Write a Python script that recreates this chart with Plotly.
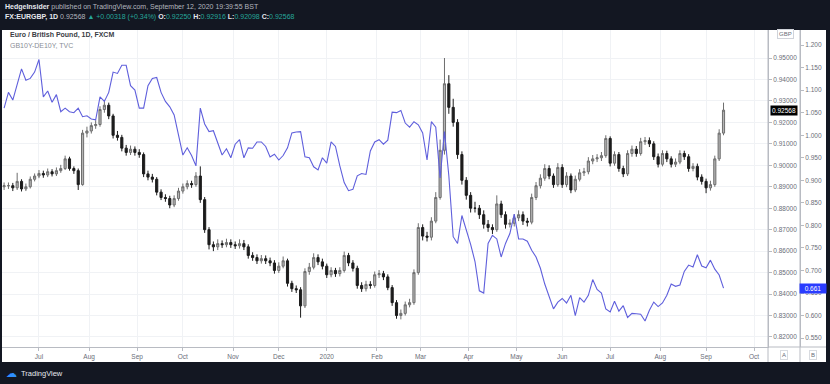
import numpy as np
import pandas as pd
import plotly.graph_objects as go

# ---------------- data ----------------
START, END, AXIS_END = "2019-06-07", "2020-09-11", "2020-10-30"

opens = [0.8900,0.8905,0.8905,0.8895,0.8925,0.8890,0.8900,0.8935,0.8950,0.8962,
0.8955,0.8970,0.8960,0.8975,0.8985,0.9030,0.8985,0.8975,0.8910,0.9150,
0.9160,0.9185,0.9190,0.9260,0.9280,0.9230,0.9140,0.9130,0.9080,0.9060,
0.9075,0.9060,0.9050,0.8960,0.8945,0.8935,0.8875,0.8850,0.8845,0.8815,
0.8845,0.8880,0.8900,0.8915,0.8910,0.8950,0.8840,0.8700,0.8630,0.8620,
0.8635,0.8630,0.8640,0.8630,0.8625,0.8635,0.8620,0.8580,0.8570,0.8555,
0.8565,0.8555,0.8545,0.8510,0.8530,0.8555,0.8450,0.8425,0.8420,0.8345,
0.8505,0.8525,0.8570,0.8550,0.8530,0.8490,0.8510,0.8495,0.8510,0.8580,
0.8545,0.8520,0.8440,0.8425,0.8445,0.8440,0.8490,0.8495,0.8480,0.8430,
0.8360,0.8300,0.8310,0.8350,0.8360,0.8500,0.8710,0.8670,0.8665,0.8740,
0.8850,0.9070,0.9380,0.9270,0.9200,0.9050,0.8930,0.8860,0.8800,0.8800,
0.8770,0.8725,0.8710,0.8700,0.8820,0.8770,0.8725,0.8730,0.8755,0.8770,
0.8740,0.8735,0.8850,0.8905,0.8940,0.8985,0.8950,0.8910,0.8990,0.8910,
0.8950,0.8885,0.8935,0.8965,0.8970,0.9020,0.9030,0.9035,0.9045,0.9125,
0.9010,0.9050,0.8985,0.8960,0.9055,0.9075,0.9055,0.9110,0.9115,0.9100,
0.9040,0.9005,0.9055,0.9030,0.9005,0.9015,0.9055,0.9040,0.8985,0.8995,
0.8945,0.8925,0.8895,0.8910,0.9030,0.9150]

highs = [0.8920,0.8920,0.8918,0.8965,0.8935,0.8915,0.8948,0.8962,0.8978,0.8975,
0.8985,0.8982,0.8990,0.9002,0.9045,0.9040,0.8995,0.8985,0.9165,0.9180,
0.9200,0.9210,0.9275,0.9305,0.9292,0.9240,0.9160,0.9142,0.9095,0.9092,
0.9088,0.9075,0.9060,0.8975,0.8960,0.8945,0.8888,0.8865,0.8858,0.8860,
0.8895,0.8915,0.8930,0.8928,0.8968,0.8995,0.8852,0.8712,0.8645,0.8655,
0.8650,0.8658,0.8655,0.8645,0.8655,0.8652,0.8632,0.8595,0.8585,0.8582,
0.8580,0.8570,0.8558,0.8548,0.8575,0.8565,0.8462,0.8440,0.8432,0.8520,
0.8545,0.8590,0.8585,0.8565,0.8542,0.8525,0.8522,0.8525,0.8598,0.8592,
0.8558,0.8532,0.8455,0.8462,0.8460,0.8505,0.8512,0.8508,0.8492,0.8442,
0.8372,0.8328,0.8365,0.8378,0.8515,0.8730,0.8725,0.8690,0.8758,0.8875,
0.9120,0.9500,0.9420,0.9310,0.9215,0.9065,0.8945,0.8875,0.8830,0.8815,
0.8790,0.8745,0.8725,0.8860,0.8835,0.8785,0.8748,0.8772,0.8790,0.8785,
0.8755,0.8868,0.8922,0.8958,0.9005,0.9000,0.8962,0.9010,0.9005,0.8968,
0.8962,0.8952,0.8982,0.8988,0.9038,0.9048,0.9052,0.9062,0.9140,0.9135,
0.9065,0.9062,0.8998,0.9070,0.9092,0.9090,0.9128,0.9132,0.9130,0.9112,
0.9055,0.9070,0.9068,0.9042,0.9032,0.9070,0.9068,0.9052,0.9010,0.9008,
0.8958,0.8938,0.8928,0.9045,0.9168,0.9292]

lows = [0.8885,0.8890,0.8880,0.8885,0.8878,0.8880,0.8892,0.8925,0.8940,0.8942,
0.8945,0.8948,0.8950,0.8965,0.8978,0.8975,0.8960,0.8885,0.8905,0.9130,
0.9148,0.9170,0.9180,0.9245,0.9215,0.9125,0.9115,0.9065,0.9045,0.9048,
0.9045,0.9035,0.8945,0.8930,0.8920,0.8860,0.8838,0.8830,0.8800,0.8805,
0.8835,0.8868,0.8888,0.8895,0.8900,0.8825,0.8685,0.8608,0.8600,0.8605,
0.8615,0.8618,0.8615,0.8610,0.8612,0.8605,0.8565,0.8555,0.8540,0.8542,
0.8540,0.8530,0.8495,0.8498,0.8520,0.8435,0.8410,0.8405,0.8290,0.8335,
0.8490,0.8515,0.8535,0.8515,0.8475,0.8478,0.8480,0.8482,0.8500,0.8530,
0.8505,0.8425,0.8410,0.8412,0.8425,0.8430,0.8475,0.8465,0.8418,0.8345,
0.8285,0.8282,0.8300,0.8338,0.8350,0.8490,0.8650,0.8645,0.8650,0.8730,
0.8840,0.9050,0.9240,0.9180,0.9030,0.8910,0.8840,0.8780,0.8780,0.8750,
0.8705,0.8690,0.8680,0.8690,0.8755,0.8705,0.8710,0.8715,0.8740,0.8722,
0.8715,0.8725,0.8838,0.8892,0.8928,0.8935,0.8895,0.8900,0.8895,0.8898,
0.8870,0.8875,0.8925,0.8950,0.8958,0.9005,0.9015,0.9020,0.9035,0.8995,
0.8998,0.8970,0.8945,0.8950,0.9040,0.9040,0.9045,0.9095,0.9085,0.9025,
0.8990,0.8995,0.9015,0.8990,0.8992,0.9005,0.9025,0.8970,0.8972,0.8930,
0.8910,0.8870,0.8882,0.8900,0.9020,0.9140]

closes = [0.8905,0.8905,0.8895,0.8925,0.8890,0.8900,0.8935,0.8950,0.8962,0.8955,
0.8970,0.8960,0.8975,0.8985,0.9030,0.8985,0.8975,0.8910,0.9150,0.9160,
0.9185,0.9190,0.9260,0.9280,0.9230,0.9140,0.9130,0.9080,0.9060,0.9075,
0.9060,0.9050,0.8960,0.8945,0.8935,0.8875,0.8850,0.8845,0.8815,0.8845,
0.8880,0.8900,0.8915,0.8910,0.8950,0.8840,0.8700,0.8630,0.8620,0.8635,
0.8630,0.8640,0.8630,0.8625,0.8635,0.8620,0.8580,0.8570,0.8555,0.8565,
0.8555,0.8545,0.8510,0.8530,0.8555,0.8450,0.8425,0.8420,0.8345,0.8505,
0.8525,0.8570,0.8550,0.8530,0.8490,0.8510,0.8495,0.8510,0.8580,0.8545,
0.8520,0.8440,0.8425,0.8445,0.8440,0.8490,0.8495,0.8480,0.8430,0.8360,
0.8300,0.8310,0.8350,0.8360,0.8500,0.8710,0.8670,0.8665,0.8740,0.8850,
0.9070,0.9380,0.9270,0.9200,0.9050,0.8930,0.8860,0.8800,0.8800,0.8770,
0.8725,0.8710,0.8700,0.8820,0.8770,0.8725,0.8730,0.8755,0.8770,0.8740,
0.8735,0.8850,0.8905,0.8940,0.8985,0.8950,0.8910,0.8990,0.8910,0.8950,
0.8885,0.8935,0.8965,0.8970,0.9020,0.9030,0.9035,0.9045,0.9125,0.9010,
0.9050,0.8985,0.8960,0.9055,0.9075,0.9055,0.9110,0.9115,0.9100,0.9040,
0.9005,0.9055,0.9030,0.9005,0.9015,0.9055,0.9040,0.8985,0.8995,0.8945,
0.8925,0.8895,0.8910,0.9030,0.9150,0.9257]

spread = [1.060,1.095,1.078,1.115,1.147,1.122,1.126,1.140,1.168,1.085,
1.098,1.073,1.090,1.052,1.060,1.052,1.050,1.060,1.041,1.043,
1.036,1.034,1.085,1.075,1.095,1.140,1.137,1.155,1.155,1.110,
1.100,1.060,1.060,1.110,1.126,1.128,1.095,1.075,1.063,1.045,
1.000,0.956,0.972,0.955,0.932,1.060,1.025,1.008,1.010,0.985,
0.956,0.970,0.950,0.980,0.990,0.950,0.972,0.971,0.985,0.985,
0.975,0.952,0.958,0.945,0.955,0.972,1.005,1.007,1.008,0.952,
0.950,0.930,0.923,0.950,0.938,0.985,0.975,0.932,0.895,0.877,
0.880,0.910,0.915,0.913,0.965,0.985,0.990,0.980,0.989,1.051,
1.050,1.055,1.027,1.018,1.030,1.023,1.005,0.945,1.030,1.018,
0.905,1.008,0.910,0.775,0.760,0.822,0.790,0.758,0.720,0.655,
0.650,0.760,0.778,0.770,0.730,0.760,0.782,0.825,0.770,0.770,
0.765,0.745,0.730,0.705,0.670,0.640,0.615,0.630,0.638,0.628,
0.645,0.600,0.640,0.630,0.645,0.680,0.658,0.650,0.615,0.608,
0.632,0.610,0.622,0.596,0.605,0.604,0.603,0.588,0.612,0.630,
0.620,0.628,0.645,0.670,0.665,0.668,0.698,0.712,0.708,0.735,
0.710,0.706,0.723,0.703,0.690,0.661]

month_labels = ["Jul", "Aug", "Sep", "Oct", "Nov", "Dec", "2020", "Feb", "Mar",
                "Apr", "May", "Jun", "Jul", "Aug", "Sep", "Oct"]
price_ticks = [0.82, 0.83, 0.84, 0.85, 0.86, 0.87, 0.88, 0.89, 0.90, 0.91,
               0.92, 0.93, 0.94, 0.95]
spread_ticks = [0.55, 0.60, 0.65, 0.70, 0.75, 0.80, 0.85, 0.90, 0.95, 1.00,
                1.05, 1.10, 1.15, 1.20]
last_price = 0.92568
last_spread = 0.661

# ---------------- positions on a trading-day scale ----------------
bdays = pd.bdate_range(START, AXIS_END)
bar_dates = pd.bdate_range(START, END)[::2]
xpos = bdays.get_indexer(bar_dates)
month_starts = pd.date_range("2019-07-01", "2020-10-01", freq="MS")
tick_pos = bdays.searchsorted(month_starts)

DARK = "#131722"
GRID = "#f0f2f5"
AXC = "#b8bbc2"
TXT = "#6a6d78"
BLUE = "#5f5fdc"
FONT = "Liberation Sans"

fig = go.Figure()
fig.add_trace(go.Candlestick(
    x=xpos, open=opens, high=highs, low=lows, close=closes,
    increasing=dict(line=dict(color="#6e6e6e", width=1), fillcolor="#b4b4b4"),
    decreasing=dict(line=dict(color="#1c1c1c", width=1), fillcolor="#1c1c1c"),
    whiskerwidth=0, showlegend=False, yaxis="y", hoverinfo="skip"))
fig.add_trace(go.Scatter(
    x=xpos, y=spread, mode="lines", line=dict(color=BLUE, width=1.1),
    showlegend=False, yaxis="y2", hoverinfo="skip"))

# plot area: x 2..768 px, y 30..347 px ; paper region x 2..800
XD = 0.9599
fig.update_layout(
    width=830, height=384, autosize=False,
    margin=dict(l=2, r=30, t=30, b=37),
    paper_bgcolor=DARK, plot_bgcolor="white",
    font=dict(family=FONT, size=7, color=TXT),
    xaxis=dict(domain=[0, XD], range=[-0.96, 350.4], rangeslider=dict(visible=False),
               tickvals=list(tick_pos), ticktext=month_labels,
               showgrid=True, gridcolor=GRID, gridwidth=1, zeroline=False,
               ticks="outside", ticklen=3, tickcolor=AXC,
               showline=True, linecolor=AXC, linewidth=1,
               tickfont=dict(size=6.5, color=TXT, family=FONT)),
    yaxis=dict(side="right", anchor="x", range=[0.81533, 0.96305],
               tickvals=price_ticks, tickformat=".5f",
               showgrid=True, gridcolor=GRID, zeroline=False,
               ticks="outside", ticklen=3, tickcolor=AXC,
               showline=True, linecolor=AXC, linewidth=1,
               tickfont=dict(size=6.5, color=TXT, family=FONT)),
    yaxis2=dict(side="right", overlaying="y", anchor="free", position=1.0,
                range=[0.5304, 1.2333], tickvals=spread_ticks, tickformat=".3f",
                showgrid=False, zeroline=False,
                ticks="outside", ticklen=3, tickcolor=AXC,
                showline=True, linecolor=AXC, linewidth=1,
                tickfont=dict(size=6.5, color=TXT, family=FONT)),
)

W_R = (826 - 2) / 798.0
Y_B = (347 - 362) / 317.0

def py(pix):
    return (347 - pix) / 317.0

def px(pix):
    return (pix - 2) / 798.0

shapes = [
    dict(type="rect", xref="paper", yref="paper", x0=0, x1=W_R, y0=Y_B, y1=1,
         fillcolor="white", line=dict(width=0), layer="below"),
    dict(type="line", xref="paper", yref="paper", x0=XD, x1=XD, y0=Y_B, y1=1,
         line=dict(color=AXC, width=1)),
    dict(type="line", xref="paper", yref="paper", x0=1, x1=1, y0=Y_B, y1=1,
         line=dict(color=AXC, width=1)),
    dict(type="line", xref="paper", yref="paper", x0=XD, x1=W_R, y0=0, y1=0,
         line=dict(color=AXC, width=1)),
]
fig.update_layout(shapes=shapes)

ann = []
ann.append(dict(xref="paper", yref="paper", x=px(3), y=py(7), xanchor="left", yanchor="middle",
                showarrow=False, font=dict(size=7, color="#b2b5be", family=FONT),
                text="<b><span style='color:#e6e8ee'>HedgeInsider</span></b> published on TradingView.com, September 12, 2020 19:39:55 BST"))
G = "#26a69a"
ann.append(dict(xref="paper", yref="paper", x=px(3), y=py(17), xanchor="left", yanchor="middle",
                showarrow=False, font=dict(size=7, color="#b2b5be", family=FONT),
                text=("<b><span style='color:#e6e8ee'>FX:EURGBP, 1D</span></b> 0.92568 "
                      f"<span style='color:{G}'>▲ +0.00318 (+0.34%)</span> "
                      f"<b><span style='color:#e6e8ee'>O:</span></b><span style='color:{G}'>0.92250</span> "
                      f"<b><span style='color:#e6e8ee'>H:</span></b><span style='color:{G}'>0.92916</span> "
                      f"<b><span style='color:#e6e8ee'>L:</span></b><span style='color:{G}'>0.92098</span> "
                      f"<b><span style='color:#e6e8ee'>C:</span></b><span style='color:{G}'>0.92568</span>")))
ann.append(dict(xref="paper", yref="paper", x=px(8), y=py(35), xanchor="left", yanchor="middle",
                showarrow=False, font=dict(size=7, color="#3a3d45", family=FONT),
                text="<b>Euro / British Pound, 1D, FXCM</b>"))
ann.append(dict(xref="paper", yref="paper", x=px(8), y=py(45), xanchor="left", yanchor="middle",
                showarrow=False, font=dict(size=7, color="#8a8d96", family=FONT),
                text="GB10Y-DE10Y, TVC"))
ann.append(dict(xref="paper", yref="paper", x=px(785), y=py(34), xanchor="center", yanchor="middle",
                showarrow=False, font=dict(size=6, color=TXT, family=FONT), text="GBP",
                bordercolor="#d0d3da", borderwidth=1, borderpad=1, bgcolor="white"))
ann.append(dict(xref="paper", yref="y", x=px(784), y=last_price, xanchor="center", yanchor="middle",
                showarrow=False, font=dict(size=6.5, color="white", family=FONT),
                text=f"{last_price:.5f}", bgcolor="#000000", borderpad=1))
ann.append(dict(xref="paper", yref="y2", x=px(813), y=last_spread, xanchor="center", yanchor="middle",
                showarrow=False, font=dict(size=6.5, color="white", family=FONT),
                text=f"{last_spread:.3f}", bgcolor="#2a3cff", borderpad=1, width=24))
ann.append(dict(xref="paper", yref="paper", x=px(784), y=py(355), xanchor="center", yanchor="middle",
                showarrow=False, font=dict(size=6, color=TXT, family=FONT), text="A",
                bordercolor="#d8dbe0", borderwidth=1, borderpad=1))
ann.append(dict(xref="paper", yref="paper", x=px(813), y=py(355), xanchor="center", yanchor="middle",
                showarrow=False, font=dict(size=6, color=TXT, family=FONT), text="B",
                bordercolor="#d8dbe0", borderwidth=1, borderpad=1))
ann.append(dict(xref="paper", yref="paper", x=px(4), y=py(373), xanchor="left", yanchor="middle",
                showarrow=False, font=dict(size=11, color="#2e8fff", family="DejaVu Sans"), text="☁"))
ann.append(dict(xref="paper", yref="paper", x=px(19), y=py(373), xanchor="left", yanchor="middle",
                showarrow=False, font=dict(size=7.5, color="#e6e8ee", family=FONT), text="TradingView"))
fig.update_layout(annotations=ann)

fig.write_html("out.html",
               config={"displayModeBar": False},
               post_script="document.body.style.margin='0';document.body.style.padding='0';"
                           "document.body.style.background='#131722';"
                           "document.body.style.overflow='hidden';")
